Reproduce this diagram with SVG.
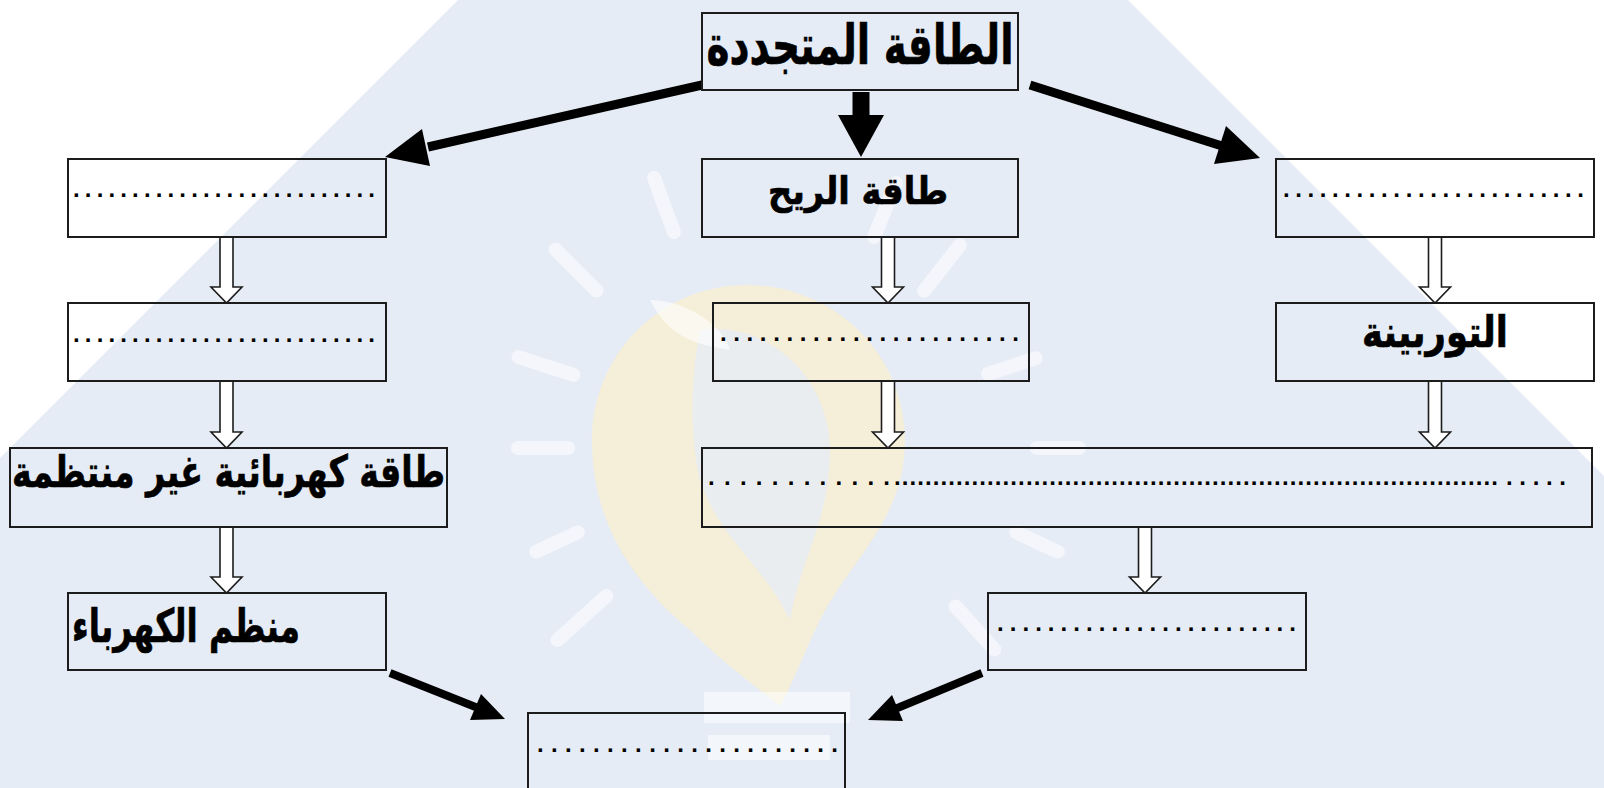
<svg xmlns="http://www.w3.org/2000/svg" width="1604" height="788" viewBox="0 0 1604 788">
<defs>
<style>
.box{fill:none;stroke:#1c1c1c;stroke-width:2}
.lbl{font-family:"DejaVu Sans",sans-serif;font-weight:bold;fill:#000;stroke:#000;stroke-width:0.7;text-anchor:middle;direction:rtl}
.dots{font-family:"Liberation Sans",sans-serif;font-size:24px;font-weight:bold;fill:#000}
.hol{fill:#ffffff;stroke:#1c1c1c;stroke-width:1.6;stroke-linejoin:miter}
.thick{stroke:#000;fill:none;stroke-linecap:butt}
.head{fill:#000}
.ray{fill:#ffffff;opacity:0.55}
</style>
</defs>
<g id="background">
<rect x="0" y="0" width="1604" height="788" fill="#e6ecf5"/>
<polygon points="0,0 458,0 0,458" fill="#ffffff"/>
<polygon points="1128,0 1604,0 1604,476" fill="#ffffff"/>
<path d="M747,285 C835,285 905,355 905,440 C905,520 850,560 820,620 C805,650 790,690 780,706 C760,690 720,660 690,630 C630,580 592,520 592,440 C592,355 660,285 747,285 Z" fill="#f7efd3" opacity="0.85"/>
<path d="M700,330 C770,320 830,380 830,450 C830,520 800,560 790,620 C760,560 720,540 700,480 C690,440 690,380 700,330 Z" fill="#e6ecf5" opacity="0.8"/>
<path d="M650,300 C680,300 720,320 730,350 C700,345 670,340 650,300 Z" fill="#ffffff" opacity="0.6"/>
<g>
<rect class="ray" x="-36" y="-7" width="72" height="14" rx="7" transform="translate(576,270) rotate(45)"/>
<rect class="ray" x="-36" y="-7" width="72" height="14" rx="7" transform="translate(664,205) rotate(70)"/>
<rect class="ray" x="-36" y="-7" width="72" height="14" rx="7" transform="translate(885,210) rotate(-68)"/>
<rect class="ray" x="-36" y="-7" width="72" height="14" rx="7" transform="translate(942,268) rotate(-52)"/>
<rect class="ray" x="-36" y="-7" width="72" height="14" rx="7" transform="translate(546,366) rotate(18)"/>
<rect class="ray" x="-32" y="-7" width="64" height="14" rx="7" transform="translate(1012,366) rotate(-18)"/>
<rect class="ray" x="-32" y="-7" width="64" height="14" rx="7" transform="translate(543,448)"/>
<rect class="ray" x="-28" y="-7" width="56" height="14" rx="7" transform="translate(1058,448)"/>
<rect class="ray" x="-30" y="-7" width="60" height="14" rx="7" transform="translate(557,542) rotate(-25)"/>
<rect class="ray" x="-30" y="-7" width="60" height="14" rx="7" transform="translate(1037,542) rotate(25)"/>
<rect class="ray" x="-40" y="-7" width="80" height="14" rx="7" transform="translate(582,618) rotate(-42)"/>
<rect class="ray" x="-36" y="-7" width="72" height="14" rx="7" transform="translate(975,628) rotate(48)"/>
<rect x="704" y="692" width="146" height="31" fill="#ffffff" opacity="0.5"/>
<rect x="708" y="735" width="122" height="25" fill="#ffffff" opacity="0.5"/>
</g>
</g>
<g id="connectors">
<path class="hol" d="M220,237 H233 V287 H242 L226.5,303 L211,287 H220 Z"/>
<path class="hol" d="M220,381 H233 V432 H242 L226.5,448 L211,432 H220 Z"/>
<path class="hol" d="M220,527 H233 V577 H242 L226.5,593 L211,577 H220 Z"/>
<path class="hol" d="M881.5,237 H894.5 V287 H903.5 L888,303 L872.5,287 H881.5 Z"/>
<path class="hol" d="M881.5,381 H894.5 V432 H903.5 L888,448 L872.5,432 H881.5 Z"/>
<path class="hol" d="M1428.5,237 H1441.5 V287 H1450.5 L1435,303 L1419.5,287 H1428.5 Z"/>
<path class="hol" d="M1428.5,381 H1441.5 V432 H1450.5 L1435,448 L1419.5,432 H1428.5 Z"/>
<path class="hol" d="M1138.5,527 H1151.5 V577 H1160.5 L1145,593 L1129.5,577 H1138.5 Z"/>
<rect x="852.5" y="92" width="17" height="25" fill="#000"/>
<polygon class="head" points="838,115 884,115 861,157"/>
<line class="thick" x1="702" y1="85" x2="428" y2="147" stroke-width="9"/>
<polygon class="head" points="385,157 430,166 422,129"/>
<line class="thick" x1="1030" y1="85" x2="1222" y2="146" stroke-width="9"/>
<polygon class="head" points="1260,158 1214,164 1226,126"/>
<line class="thick" x1="390" y1="673" x2="478" y2="708" stroke-width="8"/>
<polygon class="head" points="505,719 470,720 481,694"/>
<line class="thick" x1="982" y1="673" x2="895" y2="709" stroke-width="8"/>
<polygon class="head" points="868,720 903,721 892,695"/>
</g>
<g id="n-title">
<rect class="box" x="702" y="13" width="316" height="77"/>
<text class="lbl" x="860" y="64" font-size="55" textLength="307" lengthAdjust="spacingAndGlyphs">الطاقة المتجددة</text>
</g>
<g id="n-left1">
<rect class="box" x="68" y="159" width="318" height="78"/>
<text class="dots" x="73" y="197" textLength="302" lengthAdjust="spacing">..........................</text>
</g>
<g id="n-wind">
<rect class="box" x="702" y="159" width="316" height="78"/>
<text class="lbl" x="858" y="204" font-size="38" textLength="180" lengthAdjust="spacingAndGlyphs">طاقة الريح</text>
</g>
<g id="n-right1">
<rect class="box" x="1276" y="159" width="318" height="78"/>
<text class="dots" x="1283" y="197" textLength="301" lengthAdjust="spacing">.........................</text>
</g>
<g id="n-left2">
<rect class="box" x="68" y="303" width="318" height="78"/>
<text class="dots" x="73" y="342" textLength="302" lengthAdjust="spacing">..........................</text>
</g>
<g id="n-mid2">
<rect class="box" x="713" y="303" width="316" height="78"/>
<text class="dots" x="720" y="341" textLength="299" lengthAdjust="spacing">.......................</text>
</g>
<g id="n-turbine">
<rect class="box" x="1276" y="303" width="318" height="78"/>
<text class="lbl" x="1435" y="347" font-size="43" textLength="146" lengthAdjust="spacingAndGlyphs">التوربينة</text>
</g>
<g id="n-irregular">
<rect class="box" x="10" y="448" width="437" height="79"/>
<text class="lbl" x="228.5" y="487" font-size="44" textLength="433" lengthAdjust="spacingAndGlyphs">طاقة كهربائية غير منتظمة</text>
</g>
<g id="n-long">
<rect class="box" x="702" y="448" width="890" height="79"/>
<text class="dots" x="708" y="485" textLength="182" lengthAdjust="spacing">............</text>
<text class="dots" x="894" y="485" textLength="604" lengthAdjust="spacing">..............................................................................</text>
<text class="dots" x="1506" y="485" textLength="60" lengthAdjust="spacing">.....</text>
</g>
<g id="n-regulator">
<rect class="box" x="68" y="593" width="318" height="77"/>
<text class="lbl" x="186" y="642" font-size="46" textLength="228" lengthAdjust="spacingAndGlyphs">منظم الكهرباء</text>
</g>
<g id="n-right4">
<rect class="box" x="988" y="593" width="318" height="77"/>
<text class="dots" x="997" y="631" textLength="299" lengthAdjust="spacing">........................</text>
</g>
<g id="n-bottom">
<rect class="box" x="528" y="713" width="317" height="90"/>
<text class="dots" x="537" y="752" textLength="301" lengthAdjust="spacing">......................</text>
</g>
</svg>
